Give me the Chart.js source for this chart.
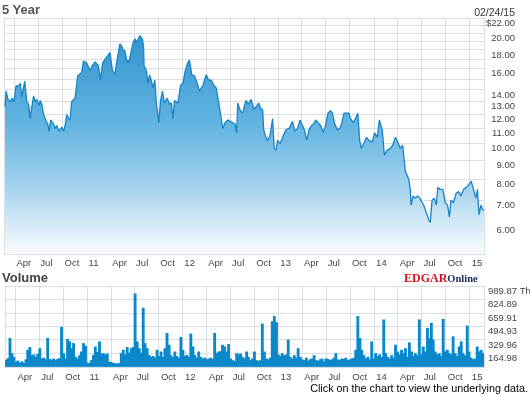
<!DOCTYPE html>
<html>
<head>
<meta charset="utf-8">
<title>5 Year</title>
<script src="https://cdn.jsdelivr.net/npm/chart.js@4.4.1/dist/chart.umd.min.js"></script>
<style>
  body { margin: 0; background: #fff; }
  #wrap { position: relative; width: 530px; height: 395px; overflow: hidden; font-family: "Liberation Sans", Arial, sans-serif; }
  #priceCanvas { position: absolute; left: 0; top: 0; }
  #volCanvas { position: absolute; left: 0; top: 276px; }
  .txt { position: absolute; white-space: nowrap; line-height: 1; }
</style>
</head>
<body>
<div id="wrap">
  <canvas id="priceCanvas" width="530" height="272"></canvas>
  <canvas id="volCanvas" width="530" height="108"></canvas>
  <div class="txt" style="left:2px;top:3px;font-size:13px;font-weight:bold;color:#555">5 Year</div>
  <div class="txt" style="right:15px;top:7px;font-size:10.5px;color:#333">02/24/15</div>
  <div class="txt" style="left:2px;top:271px;font-size:13px;font-weight:bold;color:#444">Volume</div>
  <div class="txt" style="left:404px;top:269px;font-family:'Liberation Serif',serif;font-weight:bold"><span style="font-size:12px;color:#d4141c">EDGAR</span><span style="font-size:10.5px;color:#1b2a5a">Online</span></div>
  <div class="txt" style="right:2px;top:383px;font-size:10.8px;color:#000">Click on the chart to view the underlying data.</div>
</div>
<script>
// days are counted from 2010-02-24 (first day of the 5 year window)
const startDate = '2010-02-24';
const endDay = 1826;

// quarter ticks on the time axis
const xTickDates = ['2010-04-01', '2010-07-01', '2010-10-01', '2011-01-01',
  '2011-04-01', '2011-07-01', '2011-10-01', '2012-01-01',
  '2012-04-01', '2012-07-01', '2012-10-01', '2013-01-01',
  '2013-04-01', '2013-07-01', '2013-10-01', '2014-01-01',
  '2014-04-01', '2014-07-01', '2014-10-01', '2015-01-01'];
const xTickLabels = ['Apr', 'Jul', 'Oct', '11', 'Apr', 'Jul', 'Oct', '12', 'Apr', 'Jul',
  'Oct', '13', 'Apr', 'Jul', 'Oct', '14', 'Apr', 'Jul', 'Oct', '15'];

// price axis (log)
const priceGridValues = [6, 7, 8, 9, 10, 11, 12, 13, 14, 15, 16, 17, 18, 19, 20, 21, 22];
const priceTickValues = [22, 20, 18, 16, 14, 13, 12, 11, 10, 9, 8, 7, 6];
const priceTickLabels = ['$22.00', '20.00', '18.00', '16.00', '14.00', '13.00', '12.00',
  '11.00', '10.00', '9.00', '8.00', '7.00', '6.00'];

// closing price samples
const priceDay = [
  0, 4, 11, 20, 26, 34, 42, 49, 58, 64,
  75, 83, 90, 96, 102, 109, 115, 121, 129, 134,
  140, 147, 157, 163, 168, 174, 185, 191, 197, 205,
  210, 216, 223, 229, 235, 243, 248, 254, 267, 277,
  292, 299, 311, 324, 330, 343, 356, 364, 372, 387,
  400, 409, 419, 425, 438, 444, 450, 457, 463, 470,
  476, 482, 488, 495, 501, 507, 514, 523, 528, 530,
  539, 545, 551, 558, 564, 571, 577, 586, 593, 600,
  608, 618, 627, 634, 640, 646, 659, 669, 678, 687,
  695, 703, 712, 722, 733, 741, 754, 767, 776, 786,
  796, 805, 814, 821, 830, 839, 849, 859, 868, 877,
  883, 887, 897, 906, 915, 919, 927, 938, 948, 957,
  967, 976, 982, 986, 995, 1001, 1010, 1020, 1026, 1033,
  1039, 1049, 1058, 1071, 1083, 1096, 1105, 1115, 1125, 1134,
  1143, 1150, 1159, 1168, 1176, 1184, 1193, 1203, 1214, 1222,
  1231, 1241, 1248, 1257, 1267, 1276, 1283, 1292, 1302, 1311,
  1317, 1328, 1336, 1345, 1352, 1358, 1368, 1378, 1387, 1400,
  1409, 1419, 1427, 1438, 1446, 1457, 1469, 1478, 1488, 1497,
  1507, 1516, 1526, 1539, 1545, 1548, 1556, 1564, 1573, 1581,
  1590, 1596, 1602, 1609, 1615, 1621, 1628, 1636, 1644, 1650,
  1659, 1669, 1678, 1687, 1694, 1700, 1710, 1719, 1729, 1738,
  1748, 1758, 1767, 1777, 1786, 1795, 1801, 1807, 1814, 1821,
  1826];
const closePrice = [
  12.6, 13.9, 13.2, 13.0, 13.3, 13.0, 14.4, 14.3, 14.6, 13.4,
  14.8, 13.0, 12.8, 11.7, 12.6, 13.5, 13.0, 13.2, 12.7, 13.1,
  12.8, 12.0, 11.5, 11.3, 10.8, 11.6, 11.3, 11.0, 11.2, 10.8,
  10.9, 11.1, 10.8, 11.2, 12.0, 11.7, 11.6, 13.0, 13.3, 15.3,
  15.6, 16.8, 16.6, 15.8, 16.2, 16.7, 16.3, 14.9, 16.6, 17.2,
  17.7, 15.9, 15.4, 16.6, 18.7, 18.5, 18.0, 17.9, 17.0, 16.6,
  17.2, 18.0, 18.8, 19.3, 18.9, 19.2, 19.7, 19.3, 18.5, 16.3,
  15.8, 14.6, 15.4, 14.8, 14.2, 14.9, 12.8, 11.4, 13.1, 13.9,
  12.9, 13.3, 12.8, 12.9, 11.7, 13.1, 12.9, 14.4, 14.6, 15.8,
  16.5, 16.9, 15.4, 15.3, 14.6, 13.9, 14.4, 15.4, 14.9, 14.9,
  14.4, 14.2, 13.0, 12.1, 11.0, 11.4, 11.6, 11.5, 11.4, 11.3,
  10.7, 12.9, 12.3, 12.1, 12.9, 13.1, 12.8, 13.2, 12.4, 12.6,
  12.9, 12.4, 12.4, 10.9, 10.4, 10.2, 10.5, 11.7, 9.7, 9.6,
  10.2, 10.0, 10.4, 10.9, 11.0, 11.5, 10.8, 11.0, 11.6, 11.2,
  10.8, 10.2, 10.9, 11.2, 11.3, 11.6, 11.4, 11.2, 10.7, 11.2,
  12.1, 12.3, 12.1, 11.3, 10.9, 11.0, 11.3, 12.1, 12.1, 12.1,
  11.7, 11.4, 11.7, 12.1, 10.2, 9.7, 10.0, 10.4, 10.2, 10.1,
  10.7, 10.4, 11.6, 10.9, 9.3, 9.6, 9.7, 9.9, 10.4, 10.1,
  9.7, 9.9, 8.4, 8.0, 7.5, 6.8, 7.2, 7.1, 7.2, 7.1,
  6.9, 6.8, 6.6, 6.4, 6.2, 6.1, 7.0, 7.1, 6.8, 7.6,
  7.5, 7.5, 6.9, 6.8, 6.3, 7.0, 6.9, 7.3, 7.4, 7.2,
  7.5, 7.6, 7.7, 7.9, 7.5, 7.1, 7.5, 6.4, 6.8, 6.6,
  6.6];

// volume (thousands of shares)
const volTickValues = [0, 164.98, 329.96, 494.93, 659.91, 824.89, 989.87];
const volTickLabels = ['', '164.98', '329.96', '494.93', '659.91', '824.89', '989.87 Th'];
const volDay = [
  0, 7, 15, 23, 30, 38, 45, 53, 61, 68,
  76, 83, 91, 99, 106, 114, 121, 129, 137, 144,
  152, 159, 167, 175, 182, 190, 197, 205, 212, 220,
  228, 235, 243, 250, 258, 266, 273, 281, 288, 296,
  304, 311, 319, 326, 334, 341, 349, 357, 364, 372,
  379, 387, 395, 402, 410, 417, 425, 433, 440, 448,
  455, 463, 471, 478, 486, 493, 501, 509, 516, 524,
  531, 539, 547, 554, 562, 569, 577, 585, 592, 600,
  607, 615, 623, 630, 638, 645, 653, 660, 668, 676,
  683, 691, 698, 706, 714, 721, 729, 736, 744, 752,
  759, 767, 774, 782, 790, 797, 805, 812, 820, 827,
  835, 843, 850, 858, 865, 873, 881, 888, 896, 903,
  911, 919, 926, 934, 941, 949, 957, 964, 972, 979,
  987, 995, 1002, 1010, 1017, 1025, 1033, 1040, 1048, 1055,
  1063, 1071, 1078, 1086, 1093, 1101, 1109, 1116, 1124, 1131,
  1139, 1147, 1154, 1162, 1169, 1177, 1185, 1192, 1200, 1207,
  1215, 1222, 1230, 1238, 1245, 1253, 1260, 1268, 1276, 1283,
  1291, 1298, 1306, 1314, 1321, 1329, 1336, 1344, 1352, 1359,
  1367, 1374, 1382, 1390, 1397, 1405, 1412, 1420, 1427, 1435,
  1443, 1450, 1458, 1465, 1473, 1481, 1488, 1496, 1503, 1511,
  1519, 1526, 1534, 1541, 1549, 1557, 1564, 1572, 1579, 1587,
  1594, 1602, 1610, 1617, 1625, 1632, 1640, 1648, 1655, 1663,
  1670, 1678, 1686, 1693, 1701, 1708, 1716, 1724, 1731, 1739,
  1746, 1754, 1762, 1769, 1777, 1784, 1792, 1800, 1807, 1815,
  1822];
const volumeK = [
  82, 103, 350, 165, 120, 60, 75, 50, 65, 45,
  90, 206, 240, 140, 150, 120, 155, 226, 100, 110,
  90, 350, 95, 85, 100, 80, 95, 105, 486, 165,
  100, 338, 309, 226, 288, 120, 100, 140, 185, 288,
  255, 50, 45, 80, 144, 247, 180, 309, 160, 165,
  150, 160, 62, 55, 45, 40, 40, 42, 165, 206,
  150, 240, 170, 226, 240, 894, 309, 226, 170, 721,
  288, 226, 144, 120, 130, 110, 206, 130, 185, 120,
  226, 412, 268, 140, 120, 185, 130, 110, 363, 206,
  130, 144, 120, 404, 247, 144, 110, 185, 120, 100,
  110, 90, 100, 110, 95, 412, 165, 185, 190, 268,
  247, 185, 276, 100, 80, 70, 165, 150, 160, 120,
  100, 185, 120, 80, 100, 185, 80, 70, 80, 527,
  185, 100, 90, 110, 556, 618, 544, 150, 130, 165,
  140, 150, 330, 120, 100, 140, 110, 226, 120, 90,
  80, 110, 75, 90, 100, 140, 80, 70, 90, 100,
  65, 100, 95, 80, 90, 110, 165, 90, 80, 100,
  95, 110, 80, 90, 100, 110, 206, 618, 350, 206,
  140, 100, 120, 90, 309, 100, 165, 130, 150, 120,
  577, 165, 120, 100, 140, 110, 268, 185, 150, 206,
  165, 226, 120, 297, 185, 130, 165, 140, 577, 150,
  247, 185, 474, 350, 536, 330, 185, 150, 165, 130,
  585, 185, 206, 165, 150, 371, 165, 130, 247, 309,
  165, 140, 503, 185, 110, 90, 100, 247, 185, 206,
  165];

const GRID = '#dadee3';
const TICK_COLOR = '#444';
const TICK_FONT = { family: 'Liberation Sans', size: 9.5 };
const X_MIN = -4;

function dayOf(iso) {
  return Math.round((Date.parse(iso) - Date.parse(startDate)) / 86400000);
}
const xTickDays = xTickDates.map(dayOf);

// time axis shared by both panels
function timeAxis(height, pad) {
  return {
    type: 'linear',
    offset: false,
    min: X_MIN,
    max: endDay,
    afterBuildTicks: axis => {
      axis.ticks = [X_MIN, ...xTickDays, endDay].map(v => ({ value: v }));
    },
    afterFit: axis => { axis.height = height; },
    grid: { color: GRID, drawTicks: false, offset: false },
    border: { color: GRID },
    ticks: {
      autoSkip: false,
      maxRotation: 0,
      align: 'start',
      labelOffset: 2,
      padding: pad,
      color: TICK_COLOR,
      font: TICK_FONT,
      callback: v => {
        const i = xTickDays.indexOf(v);
        return i < 0 ? '' : xTickLabels[i];
      }
    }
  };
}

const baseOptions = {
  responsive: false,
  animation: false,
  events: [],
  devicePixelRatio: 1,
  plugins: { legend: { display: false }, tooltip: { enabled: false } }
};

// price panel
new Chart(document.getElementById('priceCanvas'), {
  type: 'line',
  data: {
    datasets: [{
      data: priceDay.map((d, i) => ({ x: d, y: closePrice[i] })),
      borderColor: '#1a84c3',
      borderWidth: 1.3,
      borderJoinStyle: 'bevel',
      pointRadius: 0,
      tension: 0,
      fill: 'start',
      backgroundColor: c => {
        const area = c.chart.chartArea;
        if (!area) return 'rgba(0,0,0,0)';
        const g = c.chart.ctx.createLinearGradient(0, area.top, 0, area.bottom);
        g.addColorStop(0, '#2a8ecd');
        g.addColorStop(0.45, '#62b4e1');
        g.addColorStop(0.72, '#a5d3ee');
        g.addColorStop(1, '#fbfdff');
        return g;
      }
    }]
  },
  options: {
    ...baseOptions,
    layout: { padding: { left: 2, top: 18, right: 15, bottom: 0 } },
    scales: {
      x: timeAxis(18, 4),
      y: {
        type: 'logarithmic',
        position: 'right',
        min: 5,
        max: 22,
        afterBuildTicks: axis => {
          axis.ticks = priceGridValues.map(v => ({ value: v }));
        },
        afterFit: axis => { axis.width = 31; },
        grid: { color: GRID, drawTicks: false },
        border: { color: GRID },
        ticks: {
          autoSkip: false,
          crossAlign: 'far',
          padding: 4,
          labelOffset: 5,
          color: TICK_COLOR,
          font: TICK_FONT,
          callback: v => {
            const i = priceTickValues.indexOf(v);
            return i < 0 ? '' : priceTickLabels[i];
          }
        }
      }
    }
  }
});

// volume panel
new Chart(document.getElementById('volCanvas'), {
  type: 'bar',
  data: {
    datasets: [{
      data: volDay.map((d, i) => ({ x: d, y: volumeK[i] })),
      backgroundColor: '#0a88c9',
      borderWidth: 0,
      barThickness: 2.2
    }]
  },
  options: {
    ...baseOptions,
    layout: { padding: { left: 2, top: 10, right: 0, bottom: 0 } },
    scales: {
      x: timeAxis(17, 5),
      y: {
        type: 'linear',
        position: 'right',
        min: 0,
        max: 989.87,
        afterBuildTicks: axis => {
          axis.ticks = volTickValues.map(v => ({ value: v }));
        },
        afterFit: axis => { axis.width = 46; },
        grid: { color: GRID, drawTicks: false },
        border: { color: GRID },
        ticks: {
          autoSkip: false,
          padding: 4,
          labelOffset: 5,
          color: TICK_COLOR,
          font: TICK_FONT,
          callback: v => {
            const i = volTickValues.indexOf(v);
            return i < 0 ? '' : volTickLabels[i];
          }
        }
      }
    }
  }
});
</script>
</body>
</html>
